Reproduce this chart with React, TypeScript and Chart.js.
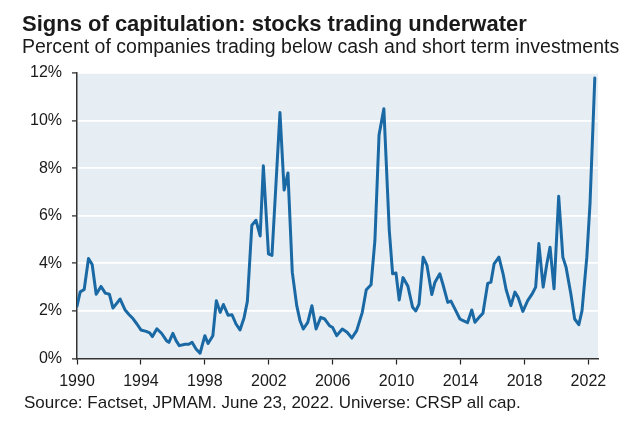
import React, { useEffect, useRef } from "react";
import Chart from "chart.js/auto";

const TITLE = "Signs of capitulation: stocks trading underwater";
const SUBTITLE = "Percent of companies trading below cash and short term investments";
const SOURCE = "Source: Factset, JPMAM. June 23, 2022. Universe: CRSP all cap.";

// Observation dates as fractional years
const years = [
  1990.0, 1990.2, 1990.45, 1990.72, 1990.95, 1991.2, 1991.5, 1991.77, 1992.03, 1992.25,
  1992.7, 1993.0, 1993.25, 1993.5, 1993.75, 1994.0, 1994.33, 1994.55, 1994.72, 1995.0,
  1995.3, 1995.6, 1995.75, 1996.0, 1996.2, 1996.4, 1996.77, 1997.0, 1997.2, 1997.45,
  1997.7, 1998.0, 1998.2, 1998.5, 1998.72, 1998.96, 1999.16, 1999.45, 1999.7, 1999.95,
  2000.2, 2000.45, 2000.66, 2000.94, 2001.2, 2001.46, 2001.66, 2001.98, 2002.2, 2002.7,
  2002.96, 2003.2, 2003.47, 2003.75, 2003.95, 2004.16, 2004.44, 2004.7, 2004.96, 2005.25,
  2005.5, 2005.8, 2006.0, 2006.25, 2006.6, 2006.9, 2007.2, 2007.5, 2007.85, 2008.1,
  2008.4, 2008.64, 2008.9, 2009.2, 2009.54, 2009.75, 2009.96, 2010.16, 2010.4, 2010.7,
  2011.0, 2011.2, 2011.4, 2011.66, 2011.9, 2012.2, 2012.4, 2012.7, 2012.9, 2013.2,
  2013.4, 2013.7, 2013.96, 2014.16, 2014.44, 2014.7, 2014.9, 2015.2, 2015.4, 2015.7,
  2015.9, 2016.1, 2016.4, 2016.66, 2016.85, 2017.15, 2017.4, 2017.6, 2017.9, 2018.2,
  2018.5, 2018.7, 2018.9, 2019.17, 2019.4, 2019.6, 2019.85, 2020.14, 2020.4, 2020.6,
  2020.9, 2021.14, 2021.4, 2021.6, 2021.9, 2022.1, 2022.4,
];

// Percent of companies trading below cash and short term investments
const pct = [
  2.2, 2.8, 2.9, 4.2, 3.95, 2.7, 3.03, 2.75, 2.7, 2.12,
  2.5, 2.05, 1.85, 1.68, 1.45, 1.2, 1.14, 1.08, 0.92, 1.25,
  1.05, 0.75, 0.68, 1.06, 0.75, 0.54, 0.6, 0.6, 0.68, 0.4,
  0.22, 0.96, 0.63, 0.96, 2.43, 1.94, 2.27, 1.82, 1.84, 1.45,
  1.2, 1.7, 2.4, 5.6, 5.81, 5.15, 8.1, 4.4, 4.33, 10.34,
  7.08, 7.8, 3.63, 2.22, 1.6, 1.24, 1.52, 2.22, 1.24, 1.73,
  1.66, 1.38, 1.3, 0.96, 1.24, 1.1, 0.86, 1.17, 1.94, 2.89,
  3.1, 4.95, 9.4, 10.5, 5.39, 3.56, 3.59, 2.46, 3.4, 3.05,
  2.15, 2.0, 2.29, 4.26, 3.91, 2.69, 3.21, 3.56, 3.11, 2.36,
  2.41, 2.01, 1.66, 1.59, 1.51, 2.04, 1.52, 1.76, 1.9, 3.16,
  3.21, 3.98, 4.26, 3.56, 2.9, 2.22, 2.79, 2.57, 1.98, 2.43,
  2.74, 3.0, 4.83, 3.0, 3.98, 4.68, 2.93, 6.82, 4.26, 3.84,
  2.72, 1.66, 1.42, 2.01, 4.26, 6.51, 11.79,
];

const yearTicks = [1990, 1994, 1998, 2002, 2006, 2010, 2014, 2018, 2022];
const pctTicks = [0, 2, 4, 6, 8, 10, 12];

const FONT = '"Liberation Sans", Arial, Helvetica, sans-serif';
const TEXT = "#1a1a1a";
const LINE = "#1a69a4";
const PLOT_BG = "#e6eef3";

// Light fill behind the plotting area
const plotBackground = {
  id: "plotBackground",
  beforeDraw(chart: any) {
    const { ctx, chartArea: a } = chart;
    ctx.save();
    ctx.fillStyle = PLOT_BG;
    ctx.fillRect(a.left, a.top, a.right - a.left, a.bottom - a.top);
    ctx.restore();
  },
};

export default function App() {
  const canvasRef = useRef<HTMLCanvasElement | null>(null);

  useEffect(() => {
    const canvas = canvasRef.current;
    if (!canvas) return;
    const points = years.map((x, i) => ({ x, y: pct[i] }));

    const chart = new Chart(canvas, {
      type: "line",
      data: {
        datasets: [
          {
            data: points,
            borderColor: LINE,
            borderWidth: 3,
            pointRadius: 0,
            tension: 0,
            fill: false,
            borderJoinStyle: "round",
            borderCapStyle: "round",
          },
        ],
      },
      plugins: [plotBackground],
      options: {
        responsive: false,
        animation: false,
        devicePixelRatio: 1,
        layout: { padding: { top: 73, right: 32, left: 0, bottom: 0 } },
        plugins: {
          legend: { display: false },
          tooltip: { enabled: false },
          title: { display: false },
        },
        scales: {
          x: {
            type: "linear",
            min: 1990,
            max: 2022.6,
            afterBuildTicks(scale: any) {
              scale.ticks = yearTicks.map((v) => ({ value: v }));
            },
            afterFit(scale: any) {
              scale.height = 75.5;
            },
            grid: {
              drawOnChartArea: false,
              tickColor: "#222",
              tickLength: 6,
              tickWidth: 1.2,
            },
            border: { color: "#333", width: 1.5 },
            ticks: {
              color: TEXT,
              font: { family: FONT, size: 16 },
              padding: 7,
              maxRotation: 0,
              autoSkip: false,
              callback: (v: any) => String(v),
            },
          },
          y: {
            min: 0,
            max: 12,
            afterBuildTicks(scale: any) {
              scale.ticks = pctTicks.map((v) => ({ value: v }));
            },
            afterFit(scale: any) {
              scale.width = 77;
            },
            grid: {
              color: (ctx: any) => (ctx.tick && ctx.tick.value === 0 ? "rgba(0,0,0,0)" : "#ffffff"),
              lineWidth: 1.8,
              tickColor: "#222",
              tickLength: 5,
              tickWidth: 1.2,
            },
            border: { color: "#333", width: 1.5 },
            ticks: {
              color: TEXT,
              font: { family: FONT, size: 16 },
              padding: 10,
              callback: (v: any) => v + "%",
            },
          },
        },
      },
    } as any);

    return () => chart.destroy();
  }, []);

  const textBase: React.CSSProperties = {
    position: "absolute",
    left: 22,
    margin: 0,
    fontFamily: FONT,
    color: TEXT,
    whiteSpace: "nowrap",
  };

  return (
    <div
      style={{
        position: "fixed",
        left: 0,
        top: 0,
        width: 630,
        height: 434,
        background: "#ffffff",
        overflow: "hidden",
      }}
    >
      <canvas
        ref={canvasRef}
        width={630}
        height={434}
        style={{ position: "absolute", left: 0, top: 0, width: 630, height: 434 }}
      />
      <div style={{ ...textBase, top: 13, fontSize: 22, lineHeight: "22px", fontWeight: 700 }}>
        {TITLE}
      </div>
      <div style={{ ...textBase, top: 37, fontSize: 19.5, lineHeight: "19.5px" }}>{SUBTITLE}</div>
      <div style={{ ...textBase, top: 394, left: 24, fontSize: 17, lineHeight: "17px" }}>{SOURCE}</div>
    </div>
  );
}
